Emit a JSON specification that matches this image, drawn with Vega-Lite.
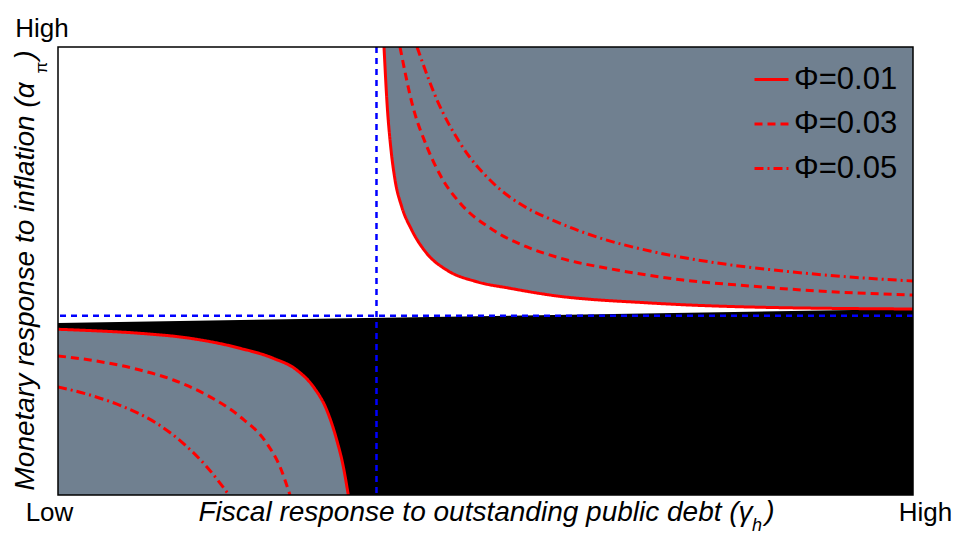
{
  "$schema": "https://vega.github.io/schema/vega-lite/v6.json",
  "width": 855,
  "height": 448,
  "autosize": {"type": "none"},
  "padding": {"left": 58, "top": 47, "right": 45, "bottom": 39},
  "background": "white",
  "config": {
    "font": "Liberation Sans",
    "view": {"stroke": null},
    "axis": {"labelFont": "Liberation Sans", "titleFont": "Liberation Sans", "labelColor": "black", "titleColor": "black"}
  },
  "datasets": {
    "curves": [
      {"branch": "upper", "phi": "Φ=0.01", "x": 0.3813, "y": 1.0},
      {"branch": "upper", "phi": "Φ=0.01", "x": 0.3851, "y": 0.8667},
      {"branch": "upper", "phi": "Φ=0.01", "x": 0.3891, "y": 0.7775},
      {"branch": "upper", "phi": "Φ=0.01", "x": 0.3942, "y": 0.7031},
      {"branch": "upper", "phi": "Φ=0.01", "x": 0.4020, "y": 0.6435},
      {"branch": "upper", "phi": "Φ=0.01", "x": 0.4137, "y": 0.5915},
      {"branch": "upper", "phi": "Φ=0.01", "x": 0.4312, "y": 0.5395},
      {"branch": "upper", "phi": "Φ=0.01", "x": 0.4546, "y": 0.5022},
      {"branch": "upper", "phi": "Φ=0.01", "x": 0.4897, "y": 0.4761},
      {"branch": "upper", "phi": "Φ=0.01", "x": 0.5287, "y": 0.4614},
      {"branch": "upper", "phi": "Φ=0.01", "x": 0.5754, "y": 0.4464},
      {"branch": "upper", "phi": "Φ=0.01", "x": 0.6924, "y": 0.4286},
      {"branch": "upper", "phi": "Φ=0.01", "x": 0.8094, "y": 0.4196},
      {"branch": "upper", "phi": "Φ=0.01", "x": 1.0, "y": 0.4152},
      {"branch": "upper", "phi": "Φ=0.03", "x": 0.4000, "y": 1.0},
      {"branch": "upper", "phi": "Φ=0.03", "x": 0.4152, "y": 0.8661},
      {"branch": "upper", "phi": "Φ=0.03", "x": 0.4316, "y": 0.7768},
      {"branch": "upper", "phi": "Φ=0.03", "x": 0.4503, "y": 0.7031},
      {"branch": "upper", "phi": "Φ=0.03", "x": 0.4702, "y": 0.6518},
      {"branch": "upper", "phi": "Φ=0.03", "x": 0.5088, "y": 0.5915},
      {"branch": "upper", "phi": "Φ=0.03", "x": 0.5485, "y": 0.5536},
      {"branch": "upper", "phi": "Φ=0.03", "x": 0.5871, "y": 0.5290},
      {"branch": "upper", "phi": "Φ=0.03", "x": 0.6538, "y": 0.5022},
      {"branch": "upper", "phi": "Φ=0.03", "x": 0.7310, "y": 0.4799},
      {"branch": "upper", "phi": "Φ=0.03", "x": 0.8094, "y": 0.4665},
      {"branch": "upper", "phi": "Φ=0.03", "x": 0.8877, "y": 0.4554},
      {"branch": "upper", "phi": "Φ=0.03", "x": 1.0, "y": 0.4464},
      {"branch": "upper", "phi": "Φ=0.05", "x": 0.4199, "y": 1.0},
      {"branch": "upper", "phi": "Φ=0.05", "x": 0.4433, "y": 0.8817},
      {"branch": "upper", "phi": "Φ=0.05", "x": 0.4702, "y": 0.7857},
      {"branch": "upper", "phi": "Φ=0.05", "x": 0.5088, "y": 0.6964},
      {"branch": "upper", "phi": "Φ=0.05", "x": 0.5485, "y": 0.6406},
      {"branch": "upper", "phi": "Φ=0.05", "x": 0.5754, "y": 0.6161},
      {"branch": "upper", "phi": "Φ=0.05", "x": 0.6339, "y": 0.5737},
      {"branch": "upper", "phi": "Φ=0.05", "x": 0.6924, "y": 0.5446},
      {"branch": "upper", "phi": "Φ=0.05", "x": 0.7708, "y": 0.5179},
      {"branch": "upper", "phi": "Φ=0.05", "x": 0.8480, "y": 0.5000},
      {"branch": "upper", "phi": "Φ=0.05", "x": 0.9263, "y": 0.4866},
      {"branch": "upper", "phi": "Φ=0.05", "x": 1.0, "y": 0.4777},
      {"branch": "lower", "phi": "Φ=0.01", "x": 0.0, "y": 0.3699},
      {"branch": "lower", "phi": "Φ=0.01", "x": 0.0413, "y": 0.3667},
      {"branch": "lower", "phi": "Φ=0.01", "x": 0.0959, "y": 0.3609},
      {"branch": "lower", "phi": "Φ=0.01", "x": 0.1544, "y": 0.3498},
      {"branch": "lower", "phi": "Φ=0.01", "x": 0.2129, "y": 0.3275},
      {"branch": "lower", "phi": "Φ=0.01", "x": 0.2518, "y": 0.3051},
      {"branch": "lower", "phi": "Φ=0.01", "x": 0.2792, "y": 0.2790},
      {"branch": "lower", "phi": "Φ=0.01", "x": 0.2986, "y": 0.2417},
      {"branch": "lower", "phi": "Φ=0.01", "x": 0.3143, "y": 0.1897},
      {"branch": "lower", "phi": "Φ=0.01", "x": 0.3260, "y": 0.1228},
      {"branch": "lower", "phi": "Φ=0.01", "x": 0.3337, "y": 0.0632},
      {"branch": "lower", "phi": "Φ=0.01", "x": 0.3395, "y": 0.0},
      {"branch": "lower", "phi": "Φ=0.03", "x": 0.0, "y": 0.3103},
      {"branch": "lower", "phi": "Φ=0.03", "x": 0.0374, "y": 0.3013},
      {"branch": "lower", "phi": "Φ=0.03", "x": 0.0959, "y": 0.2790},
      {"branch": "lower", "phi": "Φ=0.03", "x": 0.1349, "y": 0.2567},
      {"branch": "lower", "phi": "Φ=0.03", "x": 0.1739, "y": 0.2232},
      {"branch": "lower", "phi": "Φ=0.03", "x": 0.2129, "y": 0.1748},
      {"branch": "lower", "phi": "Φ=0.03", "x": 0.2441, "y": 0.1154},
      {"branch": "lower", "phi": "Φ=0.03", "x": 0.2596, "y": 0.0632},
      {"branch": "lower", "phi": "Φ=0.03", "x": 0.2713, "y": 0.0},
      {"branch": "lower", "phi": "Φ=0.05", "x": 0.0, "y": 0.2411},
      {"branch": "lower", "phi": "Φ=0.05", "x": 0.0374, "y": 0.2232},
      {"branch": "lower", "phi": "Φ=0.05", "x": 0.0764, "y": 0.1971},
      {"branch": "lower", "phi": "Φ=0.05", "x": 0.1154, "y": 0.1600},
      {"branch": "lower", "phi": "Φ=0.05", "x": 0.1465, "y": 0.1154},
      {"branch": "lower", "phi": "Φ=0.05", "x": 0.1739, "y": 0.0632},
      {"branch": "lower", "phi": "Φ=0.05", "x": 0.2, "y": 0.0}
    ],
    "boundary": [
      {"x": 0.0, "y": 0.384},
      {"x": 1.0, "y": 0.415}
    ]
  },
  "layer": [
    {
      "data": {"name": "boundary"},
      "mark": {"type": "area", "color": "#000000", "clip": true},
      "encoding": {
        "x": {
          "field": "x", "type": "quantitative",
          "scale": {"domain": [0, 1], "nice": false, "zero": false},
          "axis": {
            "values": [0, 1],
            "labelExpr": "datum.value == 0 ? 'Low' : 'High'",
            "domain": false, "ticks": false, "tickSize": 0, "grid": false,
            "labelFontSize": 26, "labelBaseline": "alphabetic", "labelPadding": 25,
            "labelAlign": "center", "labelFlush": false, "labelOverlap": false,
            "labelOffset": {"expr": "datum.value == 0 ? -9 : 12"},
            "title": "Fiscal response to outstanding public debt (γ",
            "titleFontSize": 28, "titleFontStyle": "italic", "titleFontWeight": "normal",
            "titleBaseline": "alphabetic", "titleAlign": "left", "titleX": 140, "titleY": 25
          }
        },
        "y": {
          "field": "y", "type": "quantitative",
          "scale": {"domain": [0, 1], "nice": false, "zero": false},
          "axis": {
            "values": [1],
            "labelExpr": "'High'",
            "domain": false, "ticks": false, "tickSize": 0, "grid": false,
            "labelFontSize": 26, "labelBaseline": "alphabetic", "labelPadding": 16.5,
            "labelAlign": "center", "labelFlush": false, "labelOverlap": false, "labelOffset": -11,
            "title": "Monetary response to inflation (α",
            "titleFontSize": 28, "titleFontStyle": "italic", "titleFontWeight": "normal",
            "titleAngle": 270, "titleBaseline": "alphabetic", "titleAlign": "left",
            "titleX": -24.5, "titleY": 443
          }
        },
        "y2": {"datum": 0}
      }
    },
    {
      "data": {"name": "curves"},
      "transform": [{"filter": "datum.branch == 'lower' && datum.phi == 'Φ=0.01'"}],
      "mark": {"type": "area", "color": "#708090", "interpolate": "monotone", "clip": true},
      "encoding": {
        "x": {"field": "x", "type": "quantitative"},
        "y": {"field": "y", "type": "quantitative"},
        "y2": {"datum": 0}
      }
    },
    {
      "data": {"name": "curves"},
      "transform": [{"filter": "datum.branch == 'upper' && datum.phi == 'Φ=0.01'"}],
      "mark": {"type": "area", "color": "#708090", "interpolate": "monotone", "clip": true},
      "encoding": {
        "x": {"field": "x", "type": "quantitative"},
        "y": {"field": "y", "type": "quantitative"},
        "y2": {"datum": 1}
      }
    },
    {
      "data": {"name": "curves"},
      "mark": {"type": "line", "color": "#ff0000", "strokeWidth": 3, "interpolate": "monotone", "clip": true},
      "encoding": {
        "x": {"field": "x", "type": "quantitative"},
        "y": {"field": "y", "type": "quantitative"},
        "detail": {"field": "branch"},
        "strokeDash": {
          "field": "phi", "type": "nominal",
          "scale": {"domain": ["Φ=0.01", "Φ=0.03", "Φ=0.05"], "range": [[1, 0], [8, 5], [9, 4, 2, 4]]},
          "legend": {
            "orient": "none", "legendX": 695, "legendY": 14, "title": null,
            "symbolType": "stroke", "symbolSize": 1156, "symbolStrokeWidth": 3,
            "symbolStrokeColor": "#ff0000", "labelFontSize": 31, "labelFont": "Liberation Sans",
            "labelColor": "black", "rowPadding": 10.5, "padding": 0, "labelOffset": 4
          }
        }
      }
    },
    {
      "data": {"values": [{}]},
      "mark": {"type": "rule", "color": "#0000ff", "strokeWidth": 2.5, "strokeDash": [6, 5]},
      "encoding": {"x": {"datum": 0.3725}}
    },
    {
      "data": {"values": [{}]},
      "mark": {"type": "rule", "color": "#0000ff", "strokeWidth": 2.5, "strokeDash": [6, 5]},
      "encoding": {"y": {"datum": 0.4}}
    },
    {
      "data": {"values": [{}]},
      "mark": {"type": "rect", "filled": false, "stroke": "#000000", "strokeWidth": 1.5},
      "encoding": {"x": {"datum": 0}, "x2": {"datum": 1}, "y": {"datum": 0}, "y2": {"datum": 1}}
    },
    {
      "data": {"values": [{}]},
      "mark": {"type": "text", "text": "h", "fontSize": 18, "fontStyle": "italic", "align": "center", "baseline": "alphabetic", "color": "black"},
      "encoding": {"x": {"datum": 0.8175}, "y": {"datum": -0.080}}
    },
    {
      "data": {"values": [{}]},
      "mark": {"type": "text", "text": ")", "fontSize": 28, "fontStyle": "italic", "align": "center", "baseline": "alphabetic", "color": "black"},
      "encoding": {"x": {"datum": 0.8327}, "y": {"datum": -0.0558}}
    },
    {
      "data": {"values": [{}]},
      "mark": {"type": "text", "text": "π", "fontSize": 17, "angle": 270, "align": "center", "baseline": "alphabetic", "color": "black"},
      "encoding": {"x": {"datum": -0.0129}, "y": {"datum": 0.954}}
    },
    {
      "data": {"values": [{}]},
      "mark": {"type": "text", "text": ")", "fontSize": 28, "fontStyle": "italic", "angle": 270, "align": "center", "baseline": "alphabetic", "color": "black"},
      "encoding": {"x": {"datum": -0.02865}, "y": {"datum": 0.9821}}
    }
  ]
}
